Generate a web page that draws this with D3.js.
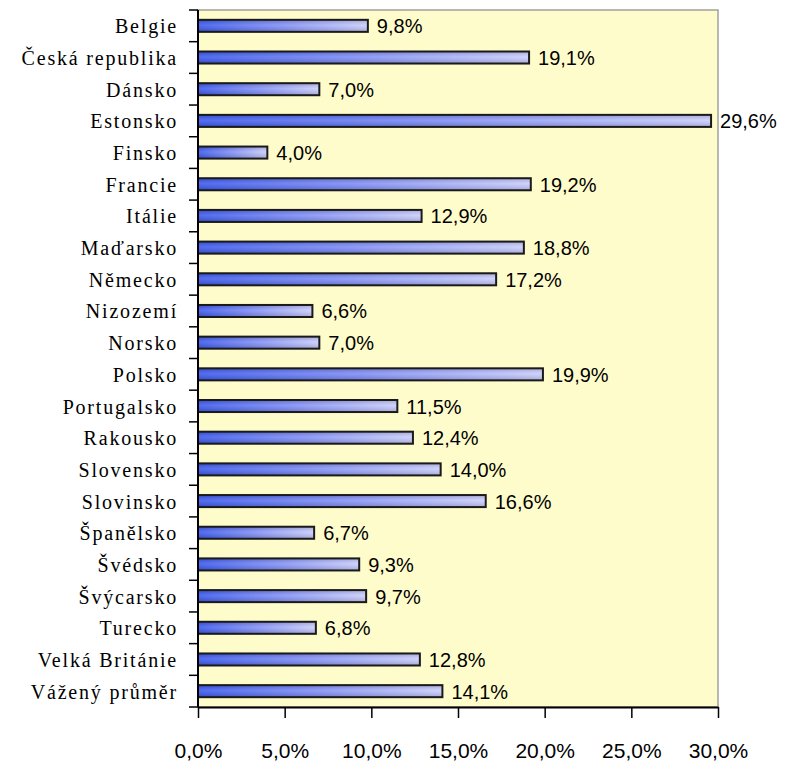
<!DOCTYPE html>
<html>
<head>
<meta charset="utf-8">
<script src="https://cdn.jsdelivr.net/npm/d3@7"></script>
<style>
  html, body { margin: 0; padding: 0; background: #ffffff; }
  svg { display: block; }
</style>
</head>
<body>
<svg id="chart" width="789" height="764"></svg>
<script>
const categories = ["Belgie", "Česká republika", "Dánsko", "Estonsko", "Finsko", "Francie", "Itálie", "Maďarsko", "Německo", "Nizozemí", "Norsko", "Polsko", "Portugalsko", "Rakousko", "Slovensko", "Slovinsko", "Španělsko", "Švédsko", "Švýcarsko", "Turecko", "Velká Británie", "Vážený průměr"];
const values = [9.8, 19.1, 7.0, 29.6, 4.0, 19.2, 12.9, 18.8, 17.2, 6.6, 7.0, 19.9, 11.5, 12.4, 14.0, 16.6, 6.7, 9.3, 9.7, 6.8, 12.8, 14.1];
const xTicks = [0, 5, 10, 15, 20, 25, 30];

const fmt = v => v.toFixed(1).replace(".", ",") + "%";

const svg = d3.select("#chart");
const plot = { left: 198, right: 718, top: 10, bottom: 707 };

const x = d3.scaleLinear().domain([0, 30]).range([plot.left, plot.right]);
const y = d3.scaleBand().domain(categories).range([plot.top, plot.bottom])
  .paddingInner(0.62).paddingOuter(0.31);

const defs = svg.append("defs");
const grad = defs.append("linearGradient").attr("id", "barGrad")
  .attr("x1", "0").attr("y1", "0").attr("x2", "1").attr("y2", "0");
grad.append("stop").attr("offset", "0%").attr("stop-color", "#3a58ee");
grad.append("stop").attr("offset", "50%").attr("stop-color", "#8290f6");
grad.append("stop").attr("offset", "100%").attr("stop-color", "#cacdfc");

const shade = defs.append("linearGradient").attr("id", "barShade")
  .attr("x1", "0").attr("y1", "0").attr("x2", "0").attr("y2", "1");
shade.append("stop").attr("offset", "0%").attr("stop-color", "#000").attr("stop-opacity", 0.18);
shade.append("stop").attr("offset", "45%").attr("stop-color", "#fff").attr("stop-opacity", 0.12);
shade.append("stop").attr("offset", "100%").attr("stop-color", "#000").attr("stop-opacity", 0.18);

// plot background
svg.append("rect")
  .attr("x", plot.left).attr("y", plot.top)
  .attr("width", plot.right - plot.left).attr("height", plot.bottom - plot.top)
  .attr("fill", "#fffccb")
  .attr("stroke", "#a0a0a0").attr("stroke-width", 1.5);

// bars
const bars = svg.append("g");
bars.selectAll("rect.bar").data(values).join("rect")
  .attr("class", "bar")
  .attr("x", x(0))
  .attr("y", (d, i) => y(categories[i]))
  .attr("width", d => x(d) - x(0))
  .attr("height", y.bandwidth())
  .attr("fill", "url(#barGrad)");
bars.selectAll("rect.shade").data(values).join("rect")
  .attr("class", "shade")
  .attr("x", x(0))
  .attr("y", (d, i) => y(categories[i]))
  .attr("width", d => x(d) - x(0))
  .attr("height", y.bandwidth())
  .attr("fill", "url(#barShade)")
  .attr("stroke", "#1a1a1a").attr("stroke-width", 2);

// value labels
svg.append("g").selectAll("text").data(values).join("text")
  .attr("x", d => x(d) + 9)
  .attr("y", (d, i) => y(categories[i]) + y.bandwidth() / 2 + 7.5)
  .attr("font-family", "'Liberation Sans', Arial, sans-serif")
  .attr("font-size", 20)
  .attr("fill", "#000")
  .text(d => fmt(d));

// left axis line + ticks at band boundaries
const step = y.step();
const off = (step - y.bandwidth()) / 2;
const boundaries = categories.map(c => y(c) - off).concat([y(categories[categories.length - 1]) - off + step]);
const ax = svg.append("g");
ax.selectAll("line.tk").data(boundaries).join("line")
  .attr("class", "tk")
  .attr("x1", plot.left - 9).attr("x2", plot.left)
  .attr("y1", d => d).attr("y2", d => d)
  .attr("stroke", "#000").attr("stroke-width", 1.5);
ax.append("line")
  .attr("x1", plot.left).attr("x2", plot.left)
  .attr("y1", plot.top).attr("y2", plot.bottom)
  .attr("stroke", "#000").attr("stroke-width", 2);

// category labels
svg.append("g").selectAll("text").data(categories).join("text")
  .attr("x", plot.left - 20)
  .attr("y", c => y(c) + y.bandwidth() / 2 + 7.5)
  .attr("text-anchor", "end")
  .attr("font-family", "'Liberation Serif', 'Times New Roman', serif")
  .attr("font-size", 20)
  .attr("letter-spacing", "1.8px")
  .attr("fill", "#000")
  .text(c => c);

// bottom axis
const xAxis = d3.axisBottom(x).tickValues(xTicks).tickSize(11).tickSizeOuter(0)
  .tickFormat(d => fmt(d));
const gx = svg.append("g").attr("transform", `translate(0,${plot.bottom})`).call(xAxis);
gx.select(".domain").attr("stroke", "#000").attr("stroke-width", 2);
gx.selectAll(".tick line").attr("stroke", "#000").attr("stroke-width", 1.5);
gx.selectAll(".tick text")
  .attr("y", 51).attr("dy", 0)
  .attr("font-family", "'Liberation Sans', Arial, sans-serif")
  .attr("font-size", 21)
  .attr("fill", "#000");
</script>
</body>
</html>
